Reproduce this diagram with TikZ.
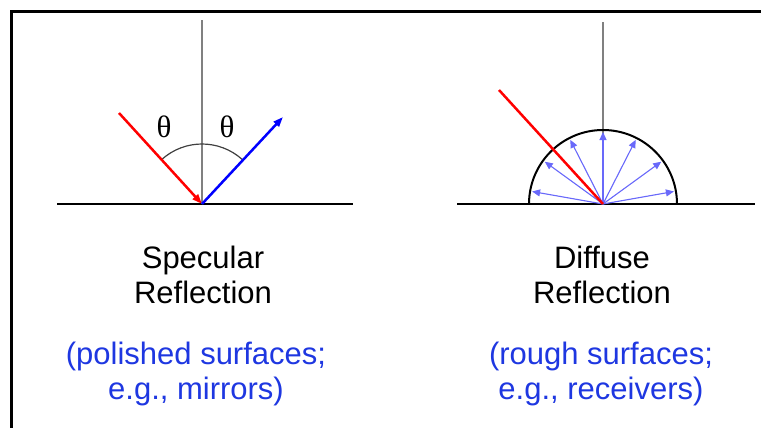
\documentclass[tikz,border=0pt]{standalone}
\usepackage{fontspec}
\setmainfont{Liberation Sans}
\newfontfamily\greekfont{Liberation Serif}
\usepackage{xcolor}
\usetikzlibrary{arrows.meta,positioning}

\definecolor{noteblue}{RGB}{30,55,225}
\definecolor{scatterblue}{RGB}{105,105,250}

\begin{document}
\begin{tikzpicture}[
  x=1pt,y=-1pt,
  font=\fontsize{31}{34.5}\selectfont,
  surface/.style={line width=2pt},
  normal/.style={draw=gray,line width=1.3pt},
  ray/.style={-{Triangle[length=10pt,width=7pt]},line width=2.5pt},
  scatter/.style={-{Triangle[length=8pt,width=7pt]},draw=scatterblue,fill=scatterblue,line width=1.1pt},
  caption/.style={align=center,inner sep=0pt,anchor=north},
  note/.style={caption,text=noteblue},
  angle/.style={font=\greekfont\fontsize{31}{34}\selectfont}
]
\useasboundingbox (0,0) rectangle (761,428);
\draw[line width=3.5pt] (11.5,428) -- (11.5,11.5) -- (761,11.5);

% specular reflection
\coordinate (sO) at (202,204);
\coordinate (sIn) at (119,113);
\coordinate (sOut) at (283,117);
\draw[surface] (57,204) -- (353,204);
\draw[normal] (sO) -- (202,20);
\draw[draw=black!75,line width=1.2pt] (sO) ++(228:60) arc (228:312:60);
\draw[ray,red] (sIn) -- (sO);
\draw[ray,blue] (sO) -- (sOut);
\node[angle] (thIn) at (164,127) {θ};
\node[angle] (thOut) at (227,127) {θ};

% diffuse reflection
\coordinate (dO) at (603,204);
\coordinate (dIn) at (499,90);
\draw[surface] (457,204) -- (755,204);
\draw[normal] (dO) -- (603,22);
\draw[surface] (dO) ++(180:74) arc (180:360:74);
\foreach \a in {10,36,63,90,117,144,170}{
  \path (dO) ++(-\a:72) coordinate (tip\a);
  \draw[scatter] (dO) -- (tip\a);
}
\draw[red,line width=2.5pt] (dIn) -- (dO);

% captions
\node[caption] (specName) at (203,246) {Specular\\Reflection};
\node[note] (specNote) at (196,342) {(polished surfaces;\\e.g., mirrors)};
\node[caption] (diffName) at (602,246) {Diffuse\\Reflection};
\node[note] (diffNote) at (601,342) {(rough surfaces;\\e.g., receivers)};
\end{tikzpicture}
\end{document}
